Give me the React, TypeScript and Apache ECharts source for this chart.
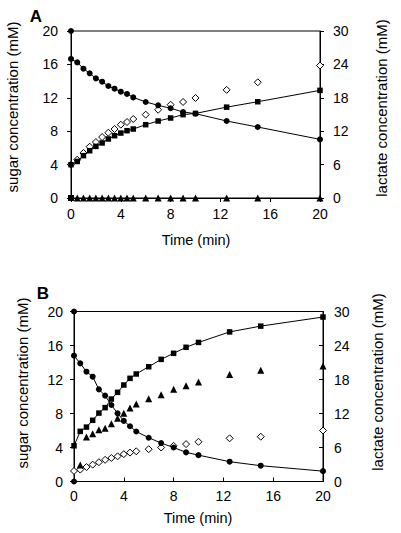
import React, { useEffect, useRef } from "react";
import * as echarts from "echarts";

// Time points (min)
const timesA = [0, 0.5, 1, 1.5, 2, 2.5, 3, 3.5, 4, 4.5, 5, 6, 7, 8, 9, 10, 12.5, 15, 20];
const timesB = [0, 0.5, 1, 1.5, 2, 2.5, 3, 3.5, 4, 4.5, 5, 6, 7, 8, 9, 10, 12.5, 15, 20];

// Panel A (values in left-axis units, mM)
const circlesA = [16.65, 16.24, 15.49, 14.93, 14.33, 13.93, 13.41, 13.09, 12.73, 12.46, 12.05, 11.5, 11.1, 10.75, 10.3, 10.1, 9.22, 8.5, 7.02];
const squaresA = [3.99, 4.38, 5.07, 5.66, 6.18, 6.59, 7.07, 7.46, 7.78, 8.06, 8.26, 8.78, 9.22, 9.58, 9.98, 10.13, 10.88, 11.53, 12.89];
const diamondsA = [4.0, 4.59, 5.39, 6.14, 6.7, 7.3, 7.82, 8.26, 8.78, 9.1, 9.46, 9.98, 10.57, 11.17, 11.5, 11.98, 12.95, 13.86, 15.86];
const trianglesA = [null, 0, 0, 0, 0, 0, 0, 0, 0, 0, 0, 0, 0, 0, 0, 0, 0, 0, 0];
const extraCirclesA = [[0, 20]];
const extraSquaresA = [[0, 0]];

// Panel B
const circlesB = [14.8, 13.9, 12.92, 12.33, 10.84, 10.1, 9.0, 8.02, 7.13, 6.5, 5.88, 5.15, 4.52, 4.0, 3.43, 3.1, 2.33, 1.86, 1.22];
const squaresB = [4.2, 5.9, 6.4, 7.2, 8.05, 8.69, 9.7, 10.49, 11.35, 12.14, 12.65, 13.5, 14.37, 15.08, 15.79, 16.36, 17.6, 18.28, 19.35];
const trianglesB = [null, 1.94, 5.25, 5.63, 6.1, 6.26, 6.8, 7.43, 8.02, 8.65, 9.12, 9.75, 10.2, 10.85, 11.27, 11.7, 12.6, 13.08, 13.6];
const diamondsB = [1.24, 1.4, 1.7, 1.98, 2.27, 2.55, 2.77, 2.96, 3.22, 3.4, 3.55, 3.8, 4.0, 4.2, 4.4, 4.67, 5.08, 5.27, 6.0];
const extraCirclesB = [[0, 20], [0, 0]];

// Axis ticks
const xTicks = [0, 4, 8, 12, 16, 20];
const sugarTicks = [0, 4, 8, 12, 16, 20];
const lactateTicks = [0, 6, 12, 18, 24, 30];

const FONT = "'Liberation Sans', Arial, sans-serif";

function pair(times: number[], vals: (number | null)[]) {
  const out: number[][] = [];
  times.forEach((t, i) => {
    const v = vals[i];
    if (v !== null && v !== undefined) out.push([t, v]);
  });
  return out;
}

export default function App() {
  const ref = useRef<HTMLDivElement>(null);
  useEffect(() => {
    if (!ref.current) return;
    const chart = echarts.init(ref.current, undefined, { renderer: "svg" });
    const black = "#000";
    const label = (margin: number) => ({ margin, color: black, fontSize: 14, fontFamily: FONT });
    const xAxis = (gi: number, inside: boolean, margin: number) => ({
      gridIndex: gi,
      type: "value",
      min: xTicks[0],
      max: xTicks[xTicks.length - 1],
      interval: xTicks[1] - xTicks[0],
      axisLine: { show: true, onZero: false, lineStyle: { color: black, width: 1 } },
      axisTick: { show: true, inside, length: 4, lineStyle: { color: black, width: 1 } },
      axisLabel: label(margin),
      splitLine: { show: false },
    });
    const yAxis = (gi: number, ticks: number[], position: string, inside: boolean, margin: number) => ({
      gridIndex: gi,
      type: "value",
      position,
      min: ticks[0],
      max: ticks[ticks.length - 1],
      interval: ticks[1] - ticks[0],
      axisLine: { show: true, onZero: false, lineStyle: { color: black, width: 1 } },
      axisTick: { show: true, inside, length: 4, lineStyle: { color: black, width: 1 } },
      axisLabel: label(margin),
      splitLine: { show: false },
    });
    const lineS = (xi: number, data: number[][], symbol: string, size: number) => ({
      type: "line",
      xAxisIndex: xi,
      yAxisIndex: xi * 2,
      data,
      symbol,
      symbolSize: size,
      showSymbol: true,
      clip: false,
      itemStyle: { color: black, opacity: 1 },
      lineStyle: { color: black, width: 1 },
      z: 3,
    });
    const scatterS = (xi: number, data: number[][], symbol: string, size: number, hollow = false) => ({
      type: "scatter",
      xAxisIndex: xi,
      yAxisIndex: xi * 2,
      data,
      symbol,
      symbolSize: size,
      clip: false,
      itemStyle: hollow
        ? { color: "#fff", borderColor: black, borderWidth: 1, opacity: 1 }
        : { color: black, opacity: 1 },
      z: hollow ? 2 : 4,
    });
    const titleText = (text: string, x: number, y: number, rot: number, size: number, bold = false) => ({
      type: "text",
      x,
      y,
      rotation: rot,
      style: {
        text,
        x: 0,
        y: 0,
        align: "center",
        verticalAlign: "middle",
        fill: black,
        font: `${bold ? "bold " : ""}${size}px ${FONT}`,
      },
    });
    chart.setOption({
      animation: false,
      backgroundColor: "#fff",
      grid: [
        { left: 71, top: 31, width: 249, height: 167, show: true, borderColor: black, borderWidth: 1, backgroundColor: "transparent" },
        { left: 74, top: 311.5, width: 249, height: 170, show: true, borderColor: black, borderWidth: 1, backgroundColor: "transparent" },
      ],
      xAxis: [xAxis(0, false, 9), xAxis(1, true, 7)],
      yAxis: [
        yAxis(0, sugarTicks, "left", false, 13),
        yAxis(0, lactateTicks, "right", false, 13),
        yAxis(1, sugarTicks, "left", false, 11),
        yAxis(1, lactateTicks, "right", true, 11),
      ],
      series: [
        scatterS(0, pair(timesA, diamondsA), "diamond", 7, true),
        scatterS(0, pair(timesA, trianglesA), "triangle", 7),
        lineS(0, pair(timesA, squaresA), "rect", 5.5),
        lineS(0, pair(timesA, circlesA), "circle", 6),
        scatterS(0, extraCirclesA, "circle", 6),
        scatterS(0, extraSquaresA, "rect", 6),
        scatterS(1, pair(timesB, diamondsB), "diamond", 7, true),
        scatterS(1, pair(timesB, trianglesB), "triangle", 7),
        lineS(1, pair(timesB, squaresB), "rect", 5.5),
        lineS(1, pair(timesB, circlesB), "circle", 6),
        scatterS(1, extraCirclesB, "circle", 6),
      ],
      graphic: [
        titleText("A", 36, 16, 0, 17, true),
        titleText("B", 43, 293, 0, 17, true),
        titleText("sugar concentration (mM)", 12, 107, Math.PI / 2, 15),
        titleText("lactate concentration (mM)", 381, 108, Math.PI / 2, 15),
        titleText("Time (min)", 196, 240, 0, 14.5),
        titleText("sugar concentration (mM)", 22, 383, Math.PI / 2, 15),
        titleText("lactate concentration (mM)", 377, 382, Math.PI / 2, 15),
        titleText("Time (min)", 198, 518, 0, 14.5),
      ],
    });
    return () => chart.dispose();
  }, []);
  return (
    <div
      ref={ref}
      style={{ position: "fixed", left: 0, top: 0, width: 401, height: 533 }}
    />
  );
}
